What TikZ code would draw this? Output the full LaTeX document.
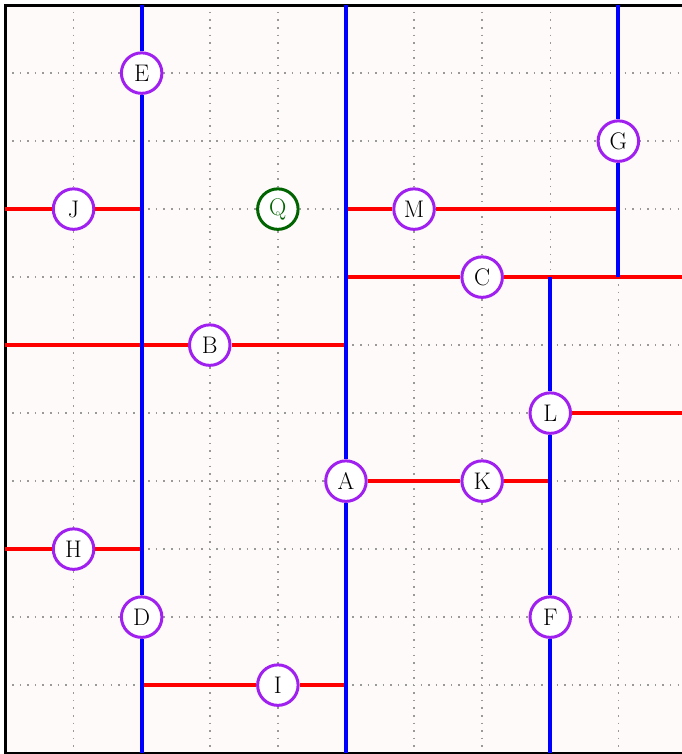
\documentclass[tikz,border=0pt]{standalone}
\usepackage{fontspec}
\definecolor{snowbg}{HTML}{FFFAFA}
\definecolor{vpurple}{HTML}{A020F0}
\definecolor{dgreen}{HTML}{006400}
\definecolor{gridgray}{HTML}{999999}
\begin{document}
\begin{tikzpicture}[x=68.1pt,y=-68pt,
  vnode/.style={circle,draw=vpurple,fill=white,line width=3pt,minimum size=40.5pt,inner sep=0pt,
    font=\fontsize{24pt}{28pt}\selectfont},
  qnode/.style={vnode,draw=dgreen,text=dgreen},
  bluel/.style={draw=blue,line width=4pt},
  redl/.style={draw=red,line width=4pt},
  gridl/.style={draw=gridgray,line width=1.5pt,dash pattern=on 1.5pt off 6.06pt,dash phase=0.75pt}]
\useasboundingbox[fill=white] (-0.08,-0.075) rectangle (9.92,11.013);
\fill[snowbg] (0,0) rectangle (10,11);
% grid
\foreach \i in {1,...,9} \draw[gridl] (\i,0) -- (\i,11);
\foreach \j in {1,...,10} \draw[gridl] (0,\j) -- (10,\j);
\draw[black,line width=3pt] (0,0) rectangle (10,11);
% nodes
\node[vnode] (E) at (2,1) {E};
\node[vnode] (D) at (2,9) {D};
\node[vnode] (A) at (5,7) {A};
\node[vnode] (G) at (9,2) {G};
\node[vnode] (L) at (8,6) {L};
\node[vnode] (F) at (8,9) {F};
\node[vnode] (J) at (1,3) {J};
\node[vnode] (M) at (6,3) {M};
\node[vnode] (C) at (7,4) {C};
\node[vnode] (B) at (3,5) {B};
\node[vnode] (K) at (7,7) {K};
\node[vnode] (H) at (1,8) {H};
\node[vnode] (I) at (4,10) {I};
\node[qnode] (Q) at (4,3) {Q};
% coordinates
\coordinate (t2) at (2,0); \coordinate (b2) at (2,11);
\coordinate (t5) at (5,0); \coordinate (b5) at (5,11);
\coordinate (t9) at (9,0); \coordinate (m94) at (9,4);
\coordinate (m84) at (8,4); \coordinate (b8) at (8,11);
\coordinate (l3) at (0,3); \coordinate (m23) at (2,3);
\coordinate (m53) at (5,3); \coordinate (m93) at (9,3);
\coordinate (m54) at (5,4); \coordinate (r4) at (10,4);
\coordinate (l5) at (0,5); \coordinate (m55) at (5,5);
\coordinate (r6) at (10,6);
\coordinate (m87) at (8,7);
\coordinate (l8) at (0,8); \coordinate (m28) at (2,8);
\coordinate (m210) at (2,10); \coordinate (m510) at (5,10);
% red lines
\draw[redl] (l3) -- (J) -- (m23);
\draw[redl] (m53) -- (M) -- (m93);
\draw[redl] (m54) -- (C) -- (r4);
\draw[redl] (l5) -- (B) -- (m55);
\draw[redl] (L) -- (r6);
\draw[redl] (A) -- (K) -- (m87);
\draw[redl] (l8) -- (H) -- (m28);
\draw[redl] (m210) -- (I) -- (m510);
% blue lines
\draw[bluel] (t2) -- (E) -- (D) -- (b2);
\draw[bluel] (t5) -- (A) -- (b5);
\draw[bluel] (t9) -- (G) -- (m94);
\draw[bluel] (m84) -- (L) -- (F) -- (b8);
\end{tikzpicture}
\end{document}
